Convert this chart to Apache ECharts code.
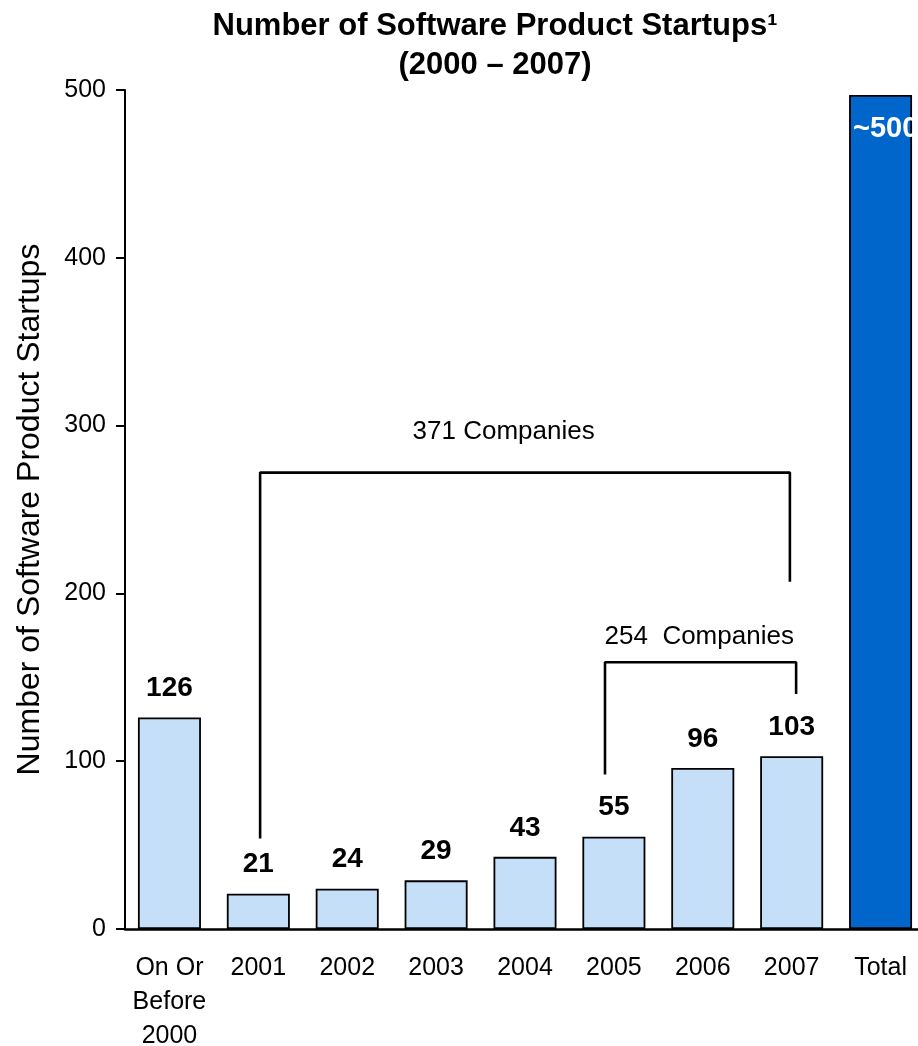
<!DOCTYPE html>
<html>
<head>
<meta charset="utf-8">
<title>Number of Software Product Startups</title>
<script src="https://cdn.jsdelivr.net/npm/echarts@6/dist/echarts.min.js"></script>
<style>
  html, body { margin: 0; padding: 0; background: #ffffff; overflow: hidden; }
  #chart { width: 918px; height: 1046px; }
</style>
</head>
<body>
<div id="chart"></div>
<script>
// Startups founded per year, plus the overall total
const categories = ['On Or\nBefore\n2000', '2001', '2002', '2003', '2004', '2005', '2006', '2007', 'Total'];
const startups = [126, 21, 24, 29, 43, 55, 96, 103, 497];
const totalLabel = '~500';

// Brackets grouping years (x in category slots, y in startup counts)
const bracketAllX = [1.02, 6.98];
const bracketAllY = [54, 272, 207];          // left foot, top, right foot
const bracketAllText = '371 Companies';
const bracketAllTextAt = [3.76, 296];

const bracketRecentX = [4.9, 7.05];
const bracketRecentY = [92, 159, 140];
const bracketRecentText = '254  Companies';
const bracketRecentTextAt = [5.96, 174];

const FONT = "'Liberation Sans', Arial, Helvetica, sans-serif";
const LIGHT = '#C6DFF9';
const DARK = '#0066CC';

function bracketPath(xs, ys) {
  return [[xs[0], ys[0]], [xs[0], ys[1]], [xs[1], ys[1]], [xs[1], ys[2]]];
}

const last = startups.length - 1;
const barData = startups.map((v, i) => {
  if (i !== last) return v;
  return {
    value: v,
    itemStyle: { color: DARK },
    label: {
      show: true,
      position: [4, 19],
      align: 'left',
      verticalAlign: 'top',
      color: '#ffffff',
      fontSize: 29,
      formatter: totalLabel
    }
  };
});

const chart = echarts.init(document.getElementById('chart'), null, { renderer: 'canvas' });

chart.setOption({
  animation: false,
  backgroundColor: '#ffffff',
  textStyle: { fontFamily: FONT, color: '#000' },
  title: {
    text: 'Number of Software Product Startups\u00B9\n(2000 \u2013 2007)',
    left: 490,
    top: 2,
    textAlign: 'center',
    textStyle: { fontFamily: FONT, fontSize: 31, fontWeight: 'bold', color: '#000', lineHeight: 39 }
  },
  grid: { left: 125, width: 800, top: 90, bottom: 117, containLabel: false, outerBoundsMode: 'none' },
  xAxis: [
    {
      type: 'category',
      data: categories,
      axisLine: { lineStyle: { color: '#000', width: 2.5 } },
      axisTick: { show: false },
      axisLabel: { interval: 0, color: '#000', fontFamily: FONT, fontSize: 25, lineHeight: 34, margin: 22 }
    },
    { type: 'value', min: -0.5, max: 8.5, show: false }
  ],
  yAxis: {
    type: 'value',
    min: 0,
    max: 500,
    interval: 100,
    name: 'Number of Software Product Startups',
    nameLocation: 'middle',
    nameGap: 79,
    nameTextStyle: { color: '#000', fontFamily: FONT, fontSize: 32 },
    axisLine: { show: true, onZero: false, lineStyle: { color: '#000', width: 2 } },
    axisTick: { show: true, length: 9, lineStyle: { color: '#000', width: 2 } },
    axisLabel: { color: '#000', fontFamily: FONT, fontSize: 25, margin: 19 },
    splitLine: { show: false }
  },
  series: [
    {
      type: 'bar',
      data: barData,
      barWidth: 63,
      itemStyle: { color: LIGHT, borderColor: '#000', borderWidth: 1.8 },
      label: {
        show: true,
        position: 'top',
        distance: 15,
        color: '#000',
        fontFamily: FONT,
        fontSize: 28,
        fontWeight: 'bold'
      },
      z: 2
    },
    {
      type: 'line',
      xAxisIndex: 1,
      data: bracketPath(bracketAllX, bracketAllY),
      showSymbol: false,
      symbol: 'none',
      lineStyle: { color: '#000', width: 2.6 },
      silent: true,
      z: 3
    },
    {
      type: 'line',
      xAxisIndex: 1,
      data: bracketPath(bracketRecentX, bracketRecentY),
      showSymbol: false,
      symbol: 'none',
      lineStyle: { color: '#000', width: 2.6 },
      silent: true,
      z: 3
    },
    {
      type: 'scatter',
      xAxisIndex: 1,
      symbolSize: 0,
      silent: true,
      itemStyle: { color: '#000', opacity: 1 },
      data: [
        { name: bracketAllText, value: bracketAllTextAt },
        { name: bracketRecentText, value: bracketRecentTextAt }
      ],
      label: {
        show: true,
        position: 'inside',
        formatter: '{b}',
        color: '#000',
        opacity: 1,
        textBorderWidth: 0,
        fontFamily: FONT,
        fontSize: 26
      },
      z: 4
    }
  ]
});
</script>
</body>
</html>
